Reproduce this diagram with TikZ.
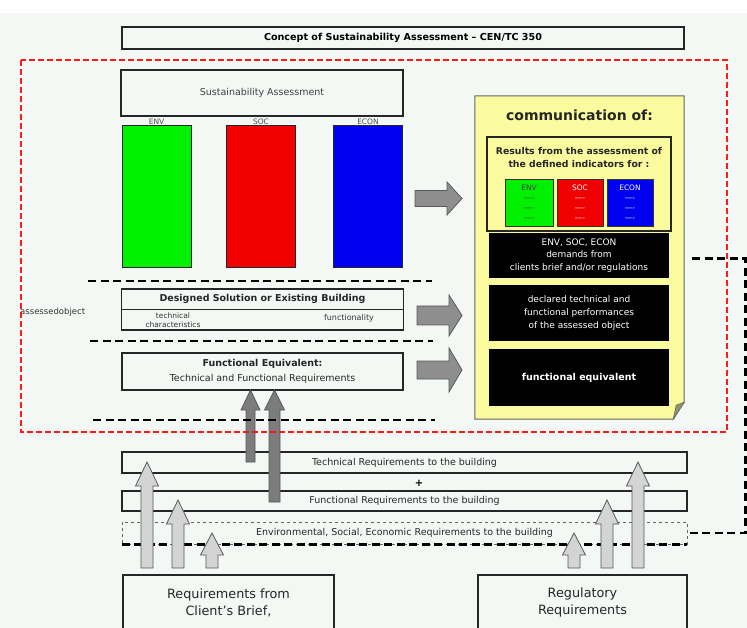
\documentclass[tikz,border=0pt]{standalone}
\usepackage{fontspec}
\setmainfont{DejaVu Sans}
\usepackage{xcolor}
\usepackage{tikz}

\definecolor{paper}{HTML}{F4F8F5}
\definecolor{notey}{HTML}{FAFA9E}
\definecolor{envg}{HTML}{00F000}
\definecolor{socr}{HTML}{F00000}
\definecolor{econb}{HTML}{0000F0}
\definecolor{lightarr}{HTML}{D4D4D4}
\definecolor{darkarr}{HTML}{7C7C7C}
\definecolor{sidearr}{HTML}{8E8E8E}

\newcommand{\fsz}[2]{\fontsize{#1}{#2}\selectfont}
% fill, x, y bottom, y tip, shaft half, head half, head length
\newcommand{\uparr}[7]{\filldraw[fill=#1, draw=black!65, line width=0.8pt] (#2-#5,#3) -- (#2-#5,#4+#7) -- (#2-#6,#4+#7) -- (#2,#4) -- (#2+#6,#4+#7) -- (#2+#5,#4+#7) -- (#2+#5,#3) -- cycle;}
% fill, x start, x tip, y middle, shaft half, head half, head length
\newcommand{\rightarr}[7]{\filldraw[fill=#1, draw=black!65, line width=0.8pt] (#2,#4-#5) -- (#3-#7,#4-#5) -- (#3-#7,#4-#6) -- (#3,#4) -- (#3-#7,#4+#6) -- (#3-#7,#4+#5) -- (#2,#4+#5) -- cycle;}

\begin{document}
\begin{tikzpicture}[x=1pt, y=-1pt, every node/.style={align=center, inner sep=1pt},
    box/.style={draw=black!85, line width=1.2pt},
    bar/.style={draw=black!85, line width=1pt, minimum width=69, minimum height=142},
    mini/.style={draw=black!80, line width=0.8pt, minimum width=46, minimum height=47, font=\fsz{7.5}{10}},
    blackbox/.style={fill=black, text=white, minimum width=180},
    bigdash/.style={line width=2.6pt, dash pattern=on 8pt off 4.5pt},
    reddash/.style={draw=red!90, line width=1.3pt, dash pattern=on 6pt off 3pt}]
    \useasboundingbox (0,0) rectangle (747,628);
    \clip (0,0) rectangle (747,628);
    \fill[paper] (0,13) rectangle (747,628);

    \node (title) at (403,38) [box, line width=1.6pt, minimum width=562, minimum height=22, font=\bfseries\fsz{9.6}{10}] {Concept of Sustainability Assessment – CEN/TC 350};

    \node (sustass) at (262,93) [box, minimum width=282, minimum height=46, font=\fsz{9.5}{10}, text=black!75] {Sustainability Assessment};
    \node (envbar) at (156.5,197) [bar, fill=envg, label={[font=\fsz{7.5}{8}, text=black!70, inner sep=0.5pt]above:ENV}] {};
    \node (socbar) at (261,197) [bar, fill=socr, label={[font=\fsz{7.5}{8}, text=black!70, inner sep=0.5pt]above:SOC}] {};
    \node (econbar) at (368,197) [bar, fill=econb, label={[font=\fsz{7.5}{8}, text=black!70, inner sep=0.5pt]above:ECON}] {};

    \node (designed) at (262.5,309.5) [box, minimum width=282, minimum height=41] {};
    \draw[black!85, line width=1pt] (designed.west) -- (designed.east);
    \node (designedtxt) at (262.5,299) [font=\bfseries\fsz{9.5}{10}, text=black!85] {Designed Solution or Existing Building};
    \node (techchar) at (173,320) [font=\fsz{7.5}{9}, text=black!80] {technical\\characteristics};
    \node (functy) at (349,318) [font=\fsz{8}{9}, text=black!80] {functionality};
    \node (assessed) at (20,312) [anchor=west, font=\fsz{8.5}{9}, text=black!80, inner sep=0] {assessedobject};

    \node (funceq) at (262.5,371.5) [box, minimum width=281, minimum height=37, font=\fsz{9.5}{15}, text=black!85] {\textbf{Functional Equivalent:}\\Technical and Functional Requirements};

    \node (note) at (579.5,257.5) [minimum width=209, minimum height=323] {};
    \filldraw[fill=notey, draw=black!60, line width=1pt] (note.north west) -- (note.north east) -- ([yshift=17]note.south east) -- ([xshift=-11]note.south east) -- (note.south west) -- cycle;
    \filldraw[fill=notey!60!black, draw=black!60, line width=0.6pt] ([xshift=-11]note.south east) -- ([xshift=-8,yshift=14]note.south east) -- ([yshift=17]note.south east) -- cycle;
    \node (commof) at (579.5,115) [font=\bfseries\fsz{14}{18}, text=black!85] {communication of:};
    \node (results) at (579,184) [box, line width=1.4pt, minimum width=184, minimum height=94] {};
    \node (resultstxt) at (579,157.5) [font=\bfseries\fsz{9.3}{13}, text=black!85] {Results from the assessment of\\the defined indicators for :};
    \node (envmini) at (529,202.5) [mini, minimum width=48, fill=envg, text=black!75] {ENV\\----\\----\\----};
    \node (socmini) at (580,202.5) [mini, fill=socr, text=white] {SOC\\----\\----\\----};
    \node (econmini) at (630,202.5) [mini, fill=econb, text=white] {ECON\\----\\----\\----};
    \node (demands) at (579,255.5) [blackbox, minimum height=45, font=\fsz{9}{12.5}] {ENV, SOC, ECON\\demands from\\clients brief and/or regulations};
    \node (perform) at (579,313) [blackbox, minimum height=56, font=\fsz{9}{13}] {declared technical and\\functional performances\\of the assessed object};
    \node (funceqbox) at (579,377.5) [blackbox, minimum height=57, font=\bfseries\fsz{9.5}{11}] {functional equivalent};

    \node (techreq) at (404.5,462.5) [box, minimum width=565, minimum height=21, font=\fsz{9.5}{10}, text=black!85] {Technical Requirements to the building};
    \node (plus) at (419,483) [font=\bfseries\fsz{10}{10}] {+};
    \node (funcreq) at (404.5,501) [box, minimum width=565, minimum height=20, font=\fsz{9.5}{10}, text=black!85] {Functional Requirements to the building};
    \node (envreq) at (404.5,533) [draw=black!60, line width=0.8pt, dashed, minimum width=565, minimum height=22, font=\fsz{9.5}{10}, text=black!85] {Environmental, Social, Economic Requirements to the building};
    \draw[bigdash, line width=2.2pt] (envreq.south west) -- (envreq.south east);

    \node (client) at (228.5,602.5) [box, minimum width=211, minimum height=55, font=\fsz{12.8}{17}, text=black!85] {Requirements from\\Client's Brief,};
    \node (regul) at (582.5,602.5) [box, minimum width=209, minimum height=55, font=\fsz{12.8}{17}, text=black!85] {Regulatory\\Requirements};

    \rightarr{sidearr}{415}{462}{198.5}{8}{16.5}{15}
    \rightarr{sidearr}{417}{462}{315.5}{9.5}{20.5}{13}
    \rightarr{sidearr}{417}{462}{370}{9}{22}{13}

    \uparr{darkarr}{250.5}{462}{390}{4.5}{9.5}{20}
    \uparr{darkarr}{274.5}{502}{390}{5.5}{10}{20}

    \uparr{lightarr}{147}{568}{462}{6}{11.5}{24}
    \uparr{lightarr}{178}{568}{500}{6}{11.5}{24}
    \uparr{lightarr}{212}{568}{533}{6}{11.5}{22}
    \uparr{lightarr}{574}{568}{533}{6}{11.5}{22}
    \uparr{lightarr}{607}{568}{500}{6}{11.5}{24}
    \uparr{lightarr}{638}{568}{462}{6}{11.5}{24}

    \draw[bigdash] (88,281) -- (432,281);
    \draw[bigdash] (90,341) -- (433,341);
    \draw[bigdash] (93,420) -- (435,420);

    \draw[reddash] (21,60) rectangle (727,432);

    \draw[bigdash] ([xshift=23,yshift=-3]demands.east) -- ++(53,0) |- (envreq.east);
\end{tikzpicture}
\end{document}
